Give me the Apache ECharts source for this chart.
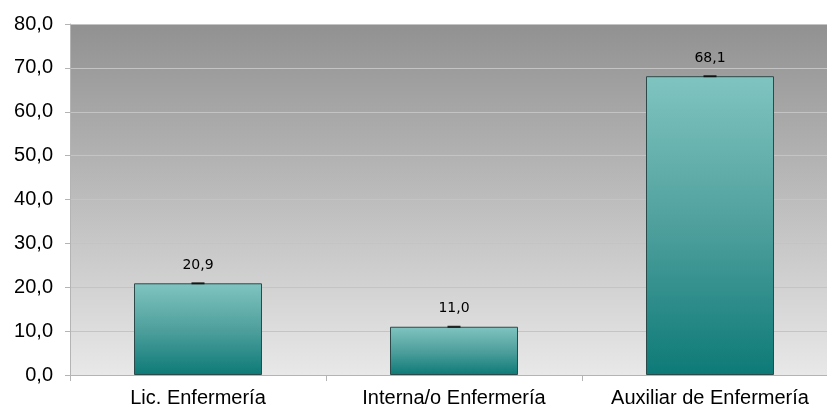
<!DOCTYPE html>
<html>
<head>
<meta charset="utf-8">
<script src="https://cdn.jsdelivr.net/npm/echarts@6/dist/echarts.min.js"></script>
<style>
  html, body { margin: 0; padding: 0; background: #fff; }
  #chart { width: 827px; height: 417px; }
</style>
</head>
<body>
<div id="chart"></div>
<script>
const categories = ['Lic. Enfermería', 'Interna/o Enfermería', 'Auxiliar de Enfermería']
const values = [20.9, 11.0, 68.1]
const yTicks = { min: 0, max: 80, interval: 10 }

const chart = echarts.init(document.getElementById('chart'), null, { renderer: 'canvas' })

const fmt = v => v.toFixed(1).replace('.', ',')

chart.setOption({
  animation: false,
  grid: {
    left: 70,
    width: 768,
    top: 24,
    bottom: 42,
    outerBoundsMode: 'none',
    containLabel: false,
    show: true,
    borderWidth: 0,
    backgroundColor: new echarts.graphic.LinearGradient(0, 0, 0, 1, [
      { offset: 0, color: '#919191' },
      { offset: 1, color: '#e8e8e8' },
    ]),
  },
  xAxis: {
    type: 'category',
    data: categories,
    axisLine: { show: true, lineStyle: { color: '#b4b4b4', width: 1 } },
    axisTick: { show: true, length: 6, lineStyle: { color: '#b4b4b4' } },
    axisLabel: {
      interval: 0,
      hideOverlap: false,
      color: '#000',
      fontFamily: 'Liberation Sans, Arial',
      fontSize: 20,
      margin: 13,
    },
  },
  yAxis: {
    type: 'value',
    min: yTicks.min,
    max: yTicks.max,
    interval: yTicks.interval,
    axisLine: { show: true, lineStyle: { color: '#b4b4b4', width: 1 } },
    axisTick: { show: true, length: 5, lineStyle: { color: '#b4b4b4' } },
    axisLabel: {
      color: '#000',
      fontFamily: 'Liberation Sans, Arial',
      fontSize: 20,
      margin: 17,
      formatter: v => fmt(v),
    },
    splitLine: { show: true, lineStyle: { color: '#c4c4c4', width: 1 } },
  },
  series: [
    {
      type: 'bar',
      data: values,
      barWidth: '50%',
      itemStyle: {
        borderColor: '#2c4a4a',
        borderWidth: 1,
        color: new echarts.graphic.LinearGradient(0, 0, 0, 1, [
          { offset: 0, color: '#80c4c0' },
          { offset: 0.5, color: '#4fa09d' },
          { offset: 1, color: '#0d7a77' },
        ]),
      },
      label: {
        show: true,
        position: 'top',
        distance: 11,
        color: '#000',
        fontFamily: 'DejaVu Sans',
        fontSize: 14,
        formatter: p => fmt(p.value),
      },
    },
    {
      type: 'scatter',
      data: values,
      symbol: 'rect',
      symbolSize: [13, 2],
      itemStyle: { color: '#000' },
      silent: true,
      z: 5,
    },
  ],
})
</script>
</body>
</html>
